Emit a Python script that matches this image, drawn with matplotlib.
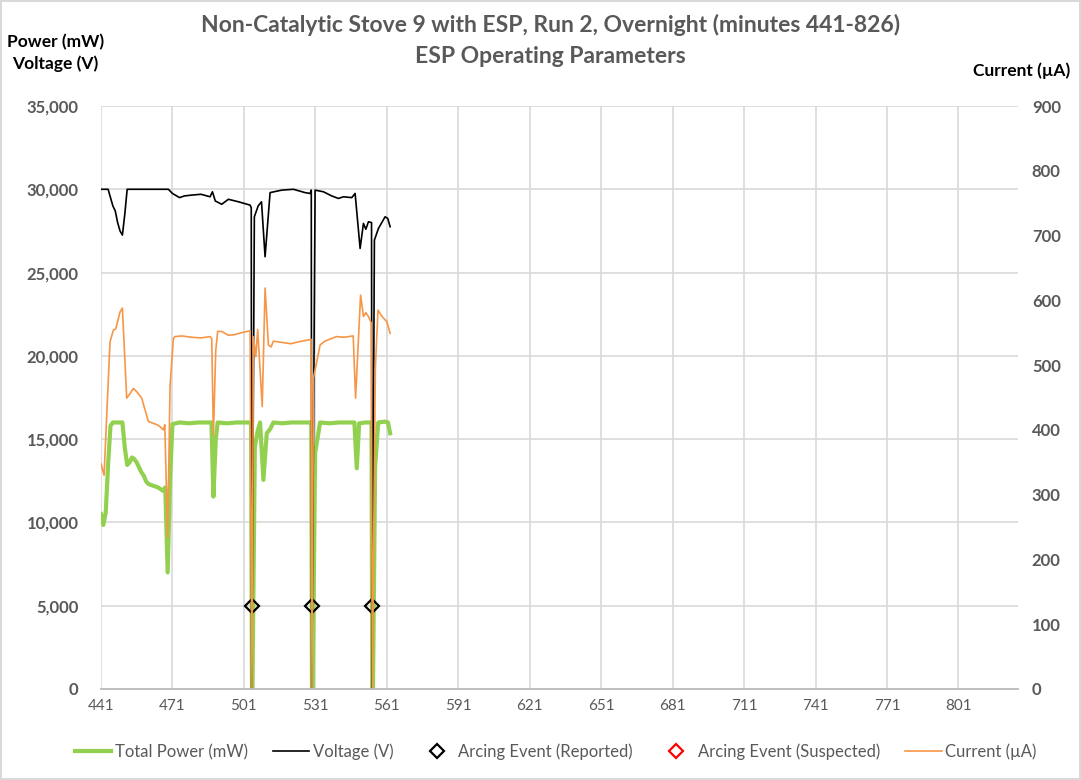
import matplotlib
matplotlib.use('Agg')
import matplotlib.pyplot as plt

plt.rcParams['font.family'] = ['Lato', 'DejaVu Sans']

# total power (mW), minutes
power_t = [441, 442, 443, 444, 445, 446, 448, 450, 451, 452, 453, 454, 455, 456, 457,
           458, 459, 460, 461, 462, 463, 464, 465, 466, 467, 468, 469, 470, 471, 474,
           478, 482, 486, 487.4, 488.2, 489.2, 490, 494, 498, 502, 504.0, 504.4, 504.6,
           505.6, 506.8, 507.8, 509.2, 510.6, 512, 513.4, 517, 521, 525, 528.3, 529.3,
           529.6, 529.9, 530.9, 533, 537, 541, 545, 547.4, 548.4, 549.4, 552, 554.6,
           554.9, 555.2, 556.1, 557.4, 560.3, 561.5, 562.4]
power = [10500, 9850, 10600, 13500, 15800, 16000, 16000, 16000, 14500, 13450, 13600, 13900,
         13800, 13600, 13300, 13000, 12800, 12450, 12300, 12250, 12200, 12150, 12100, 12000,
         11900, 12100, 7000, 12500, 15900, 16000, 15950, 16000, 16000, 16000, 11550, 15000,
         16000, 15950, 16000, 16000, 16000, 0, 0, 14540, 15500, 16000, 12550, 15350, 15600,
         16000, 15950, 16000, 16000, 16000, 16000, 0, 0, 14150, 16000, 15950, 16000, 16000,
         16000, 13250, 15950, 16000, 16000, 0, 0, 13350, 16000, 16050, 16000, 15350]

# voltage (V)
volt_t = [441, 444, 445, 446, 447, 448, 449, 450, 451, 452, 456, 460, 464, 469.3, 471, 474,
          476, 479, 483, 486.8, 487.8, 489, 491.7, 494.5, 498.7, 503.6, 504.1, 504.3, 505.4,
          507, 508.4, 509.9, 512, 516.9, 521.8, 526.7, 528.8, 529.3, 529.5, 530.9, 534.4,
          537.9, 540.7, 542.8, 546.3, 547.7, 549.8, 551.2, 552.2, 553.3, 554.6, 554.8,
          555.8, 557.5, 560.3, 561.4, 562.4]
voltage = [30000, 30000, 29500, 29000, 28700, 28000, 27500, 27250, 28500, 30000, 30000,
           30000, 30000, 30000, 29750, 29500, 29600, 29650, 29700, 29550, 29850, 29300,
           29100, 29400, 29250, 29050, 28900, 0, 28350, 29000, 29250, 25950, 29800, 29950,
           30000, 29800, 29750, 29950, 0, 29950, 29850, 29600, 29450, 29550, 29500, 29750,
           26450, 27950, 27600, 28050, 28000, 0, 26950, 27650, 28350, 28250, 27750]

# current (uA)
cur_t = [441, 442.3, 444.8, 446.2, 447.2, 449, 450, 451.8, 453, 454.6, 456, 458.1, 459.5,
         460.9, 463, 464.5, 465.8, 467.2, 467.8, 469, 470, 471.4, 472, 475, 478.9, 483,
         486.8, 487.5, 488.2, 489.2, 490, 491.7, 494.5, 497, 500, 503.6, 504.4, 505, 506,
         506.8, 508.7, 509.9, 511.3, 512.4, 513.4, 517, 520.7, 524, 528.3, 529.2, 529.6,
         530.2, 531.6, 533, 535, 539.9, 543, 546.9, 547.9, 550, 551.2, 552.2, 553.3,
         554.5, 554.9, 556.2, 557.3, 559, 561, 562.4]
current = [348, 330, 536, 554, 556, 582, 588, 449, 455, 464, 459, 449, 431, 413, 410, 408,
           405, 400, 408, 233, 467, 541, 544, 545, 543, 542, 544, 541, 392, 523, 552, 552,
           546, 547, 550, 553, 0, 544, 513, 555, 436, 619, 531, 528, 537, 535, 533, 536,
           539, 540, 0, 480, 505, 531, 537, 544, 543, 545, 449, 608, 575, 581, 575, 565, 0,
           495, 585, 575, 567, 549]

arc_reported_t = [504.3, 529.5, 554.8]
arc_reported_y = [5000, 5000, 5000]
arc_suspected_t = []
arc_suspected_y = []

x_ticks = list(range(441, 802, 30))
gray = '#595959'
green = '#92D050'
orange = '#F79646'

fig = plt.figure(figsize=(10.81, 7.80), dpi=100)
fig.patch.set_edgecolor('#D9D9D9')
fig.patch.set_linewidth(1.5)
ax = fig.add_axes([0.0934, 0.1167, 0.8483, 0.7474])
ax2 = ax.twinx()

ax.plot(power_t, power, color=green, lw=3, label='Total Power (mW)', zorder=3)
ax.plot(volt_t, voltage, color='black', lw=1.2, label='Voltage (V)', zorder=4)
ax.plot(arc_reported_t, arc_reported_y, ls='none', marker='D', ms=7, mfc='none',
        mec='black', mew=1.6, label='Arcing Event (Reported)', zorder=6)
ax.plot(arc_suspected_t, arc_suspected_y, ls='none', marker='D', ms=7, mfc='none',
        mec='red', mew=1.6, label='Arcing Event (Suspected)', zorder=6)
ax2.plot(cur_t, current, color=orange, lw=1.2, label='Current (µA)')

ax.set_xlim(441, 826)
ax.set_ylim(0, 35000)
ax2.set_ylim(0, 900)
ax.set_xticks(x_ticks)
ax.set_yticks(range(0, 35001, 5000))
ax.set_yticklabels([f'{v:,}' for v in range(0, 35001, 5000)])
ax2.set_yticks(range(0, 901, 100))

ax.grid(True, color='#D9D9D9', lw=1.2)
ax.set_axisbelow(True)
for a in (ax, ax2):
    for s in ('top', 'right', 'left'):
        a.spines[s].set_visible(False)
    a.spines['bottom'].set_color('#BFBFBF')
    a.spines['bottom'].set_linewidth(1.2)
ax.tick_params(axis='x', length=0, pad=7, labelsize=11, labelcolor=gray)
ax.tick_params(axis='y', length=0, pad=16, labelsize=12, labelcolor=gray)
ax2.tick_params(axis='y', length=0, pad=10, labelsize=12, labelcolor=gray)
for lab in ax.get_yticklabels() + ax2.get_yticklabels():
    lab.set_fontweight('bold')

fig.text(0.509, 0.968, 'Non-Catalytic Stove 9 with ESP, Run 2, Overnight (minutes 441-826)',
         ha='center', va='center', fontsize=16.5, fontweight='bold', color=gray)
fig.text(0.509, 0.927, 'ESP Operating Parameters', ha='center', va='center',
         fontsize=16.5, fontweight='bold', color=gray)
fig.text(0.051, 0.932, 'Power (mW)\nVoltage (V)', ha='center', va='center', fontsize=12.5,
         fontweight='bold', color='black', linespacing=1.4)
fig.text(0.945, 0.909, 'Current (µA)', ha='center', va='center', fontsize=12.5,
         fontweight='bold', color='black')

h1, l1 = ax.get_legend_handles_labels()
h2, l2 = ax2.get_legend_handles_labels()
fig.legend(h1 + h2, l1 + l2, loc='center', bbox_to_anchor=(0.514, 0.036), ncol=5,
           frameon=False, fontsize=12, labelcolor=gray, handlelength=2.2,
           handletextpad=0.2, columnspacing=1.5)

fig.savefig('out.png', dpi=100, edgecolor=fig.get_edgecolor())
